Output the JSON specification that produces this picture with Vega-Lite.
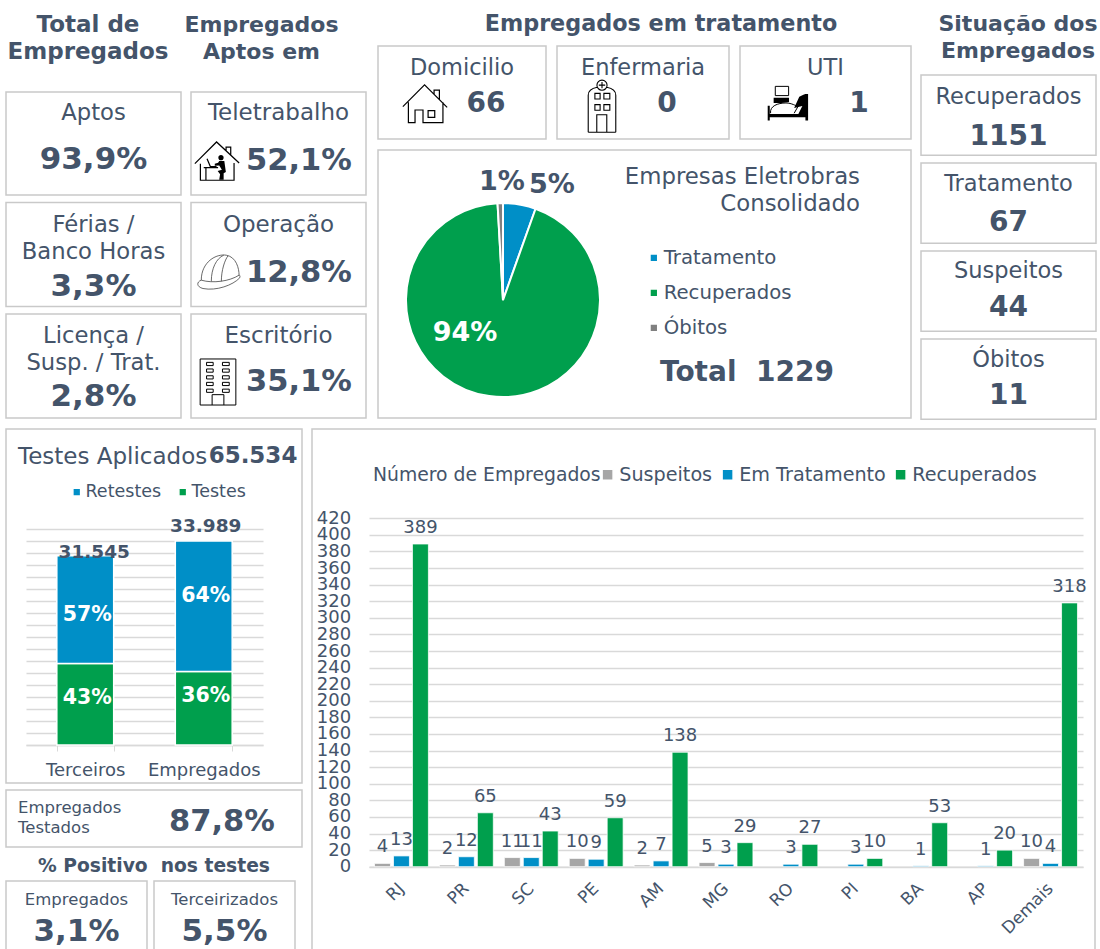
{"$schema":"https://vega.github.io/schema/vega-lite/v6.json","background":"white","padding":{"left":5,"top":0,"right":3,"bottom":0},"config":{"font":"DejaVu Sans","view":{"stroke":"#c9c9c9","strokeWidth":1.5},"text":{"color":"#44546A"},"axis":{"labelColor":"#44546A"},"legend":{"labelColor":"#44546A","titleColor":"#44546A"}},"spacing":8,"resolve":{"scale":{"color":"independent"},"legend":{"color":"independent"}},"vconcat":[
{"spacing":8,"resolve":{"scale":{"color":"independent"},"legend":{"color":"independent"}},"hconcat":[
 {"spacing":10,"resolve":{"scale":{"color":"independent"},"legend":{"color":"independent"}},"hconcat":[
  {"spacing":16,"vconcat":[
   {"width":360,"height":75,"view":{"stroke":null},"layer":[
    {"data":{"values":[{"texto":"Total de\nEmpregados"}]},"mark":{"type":"text","lineBreak":"\n","lineHeight":27,"fontSize":23,"fontWeight":"bold","dx":-98,"dy":-13},"encoding":{"text":{"field":"texto"}}},
    {"data":{"values":[{"texto":"Empregados\nAptos em"}]},"mark":{"type":"text","lineBreak":"\n","lineHeight":27,"fontSize":22,"fontWeight":"bold","dx":75.5,"dy":-13},"encoding":{"text":{"field":"texto"}}}
   ]},
   {"spacing":8,"hconcat":[
    {"bounds":"flush","spacing":7.5,"vconcat":[
     {"width":175,"height":103,"data":{"values":[{"linha":"topo","texto":"Aptos"},{"linha":"base","texto":"93,9%"}]},"encoding":{"text":{"field":"texto"},"y":{"field":"linha","type":"nominal","axis":null,"scale":{"domain":["topo","base"],"range":[21,68],"padding":0}}},"layer":[{"transform":[{"filter":"datum.linha=='topo'"}],"mark":{"type":"text","fontSize":22.7}},{"transform":[{"filter":"datum.linha=='base'"}],"mark":{"type":"text","fontSize":31,"fontWeight":"bold"}}]},
     {"width":175,"height":104,"data":{"values":[{"linha":"topo","texto":"Férias /\nBanco Horas"},{"linha":"base","texto":"3,3%"}]},"encoding":{"text":{"field":"texto"},"y":{"field":"linha","type":"nominal","axis":null,"scale":{"domain":["topo","base"],"range":[22,84],"padding":0}}},"layer":[{"transform":[{"filter":"datum.linha=='topo'"}],"mark":{"type":"text","fontSize":22.7,"lineBreak":"\n","lineHeight":27}},{"transform":[{"filter":"datum.linha=='base'"}],"mark":{"type":"text","fontSize":31,"fontWeight":"bold"}}]},
     {"width":175,"height":104,"data":{"values":[{"linha":"topo","texto":"Licença /\nSusp. / Trat."},{"linha":"base","texto":"2,8%"}]},"encoding":{"text":{"field":"texto"},"y":{"field":"linha","type":"nominal","axis":null,"scale":{"domain":["topo","base"],"range":[22,83],"padding":0}}},"layer":[{"transform":[{"filter":"datum.linha=='topo'"}],"mark":{"type":"text","fontSize":22.7,"lineBreak":"\n","lineHeight":27}},{"transform":[{"filter":"datum.linha=='base'"}],"mark":{"type":"text","fontSize":31,"fontWeight":"bold"}}]}
    ]},
    {"bounds":"flush","spacing":7.5,"vconcat":[
     {"width":175,"height":103,"data":{"values":[{"linha":"topo","papel":"rotulo","texto":"Teletrabalho"},{"linha":"base","papel":"valor","texto":"52,1%"},{"linha":"base","papel":"icone"}]},"encoding":{"y":{"field":"linha","type":"nominal","axis":null,"scale":{"domain":["topo","base"],"range":[21,69],"padding":0}}},"layer":[
      {"transform":[{"filter":"datum.papel=='rotulo'"}],"mark":{"type":"text","fontSize":23},"encoding":{"text":{"field":"texto"}}},
      {"transform":[{"filter":"datum.papel=='valor'"}],"mark":{"type":"text","fontSize":30.5,"fontWeight":"bold"},"encoding":{"text":{"field":"texto"},"x":{"field":"papel","type":"nominal","axis":null,"scale":{"domain":["icone","valor"],"range":[26,108],"padding":0}}}},
      {"transform":[{"filter":"datum.papel=='icone'"}],"mark":{"type":"point","opacity":1,"filled":false,"stroke":"#000","strokeWidth":1.2,"size":1962,"shape":"M-1 0.12L-0.02 -0.86L1 0.09M0.41 -0.45V-0.63H0.62V-0.26M-0.75 0.12V0.87H0.77V0.09M-0.6 0.3H0.05M-0.5 0.3V0.87M-0.45 -0.1L-0.3 0.25H-0.02"},"encoding":{"x":{"field":"papel","type":"nominal"}}},
      {"transform":[{"filter":"datum.papel=='icone'"}],"mark":{"type":"point","opacity":1,"filled":true,"color":"#000","size":1962,"shape":"M0.06 -0.15A0.12 0.12 0 1 1 0.3 -0.15A0.12 0.12 0 1 1 0.06 -0.15ZM0.1 0L0.33 0L0.4 0.5L0.3 0.55L0.3 0.85L0.1 0.85L0.14 0.6L0.03 0.45L0.22 0.4L0.1 0.2L-0.1 0.22L-0.1 0.12L0.05 0.08Z"},"encoding":{"x":{"field":"papel","type":"nominal"}}}
     ]},
     {"width":175,"height":104,"data":{"values":[{"linha":"topo","papel":"rotulo","texto":"Operação"},{"linha":"base","papel":"valor","texto":"12,8%"},{"linha":"base","papel":"icone"}]},"encoding":{"y":{"field":"linha","type":"nominal","axis":null,"scale":{"domain":["topo","base"],"range":[22,70],"padding":0}}},"layer":[
      {"transform":[{"filter":"datum.papel=='rotulo'"}],"mark":{"type":"text","fontSize":23},"encoding":{"text":{"field":"texto"}}},
      {"transform":[{"filter":"datum.papel=='valor'"}],"mark":{"type":"text","fontSize":30.5,"fontWeight":"bold"},"encoding":{"text":{"field":"texto"},"x":{"field":"papel","type":"nominal","axis":null,"scale":{"domain":["icone","valor"],"range":[28,108],"padding":0}}}},
      {"transform":[{"filter":"datum.papel=='icone'"}],"mark":{"type":"point","opacity":1,"filled":false,"stroke":"#444","strokeWidth":0.8,"size":1824,"shape":"M-0.83 0.36C-0.83 -0.5 -0.125 -0.89 0.34 -0.81C0.81 -0.73 0.94 -0.19 0.94 0.125M-0.83 0.36C-1.06 0.44 -1.06 0.67 -0.75 0.75C-0.125 0.875 0.66 0.59 0.97 0.25C1 0.16 0.97 0.125 0.94 0.125C0.5 0.41 -0.28 0.52 -0.83 0.36M-0.36 0.41C-0.36 -0.19 -0.125 -0.66 0.22 -0.81M0.11 0.41C0.11 -0.11 0.27 -0.58 0.42 -0.78"},"encoding":{"x":{"field":"papel","type":"nominal"}}}
     ]},
     {"width":175,"height":104,"data":{"values":[{"linha":"topo","papel":"rotulo","texto":"Escritório"},{"linha":"base","papel":"valor","texto":"35,1%"},{"linha":"base","papel":"icone"}]},"encoding":{"y":{"field":"linha","type":"nominal","axis":null,"scale":{"domain":["topo","base"],"range":[22,68],"padding":0}}},"layer":[
      {"transform":[{"filter":"datum.papel=='rotulo'"}],"mark":{"type":"text","fontSize":23},"encoding":{"text":{"field":"texto"}}},
      {"transform":[{"filter":"datum.papel=='valor'"}],"mark":{"type":"text","fontSize":30.5,"fontWeight":"bold"},"encoding":{"text":{"field":"texto"},"x":{"field":"papel","type":"nominal","axis":null,"scale":{"domain":["icone","valor"],"range":[27,108],"padding":0}}}},
      {"transform":[{"filter":"datum.papel=='icone'"}],"mark":{"type":"point","opacity":1,"filled":false,"stroke":"#000","strokeWidth":1,"size":1274,"shape":"M-1 -1.29H1V1.29H-1ZM-0.33 1.29V0.71H0.33V1.29M-0.64 -1.1H-0.27V-0.92H-0.64ZM0.25 -1.1H0.63V-0.92H0.25ZM-0.64 -0.73H-0.27V-0.55H-0.64ZM0.25 -0.73H0.63V-0.55H0.25ZM-0.64 -0.35H-0.27V-0.17H-0.64ZM0.25 -0.35H0.63V-0.17H0.25ZM-0.64 0.02H-0.27V0.2H-0.64ZM0.25 0.02H0.63V0.2H0.25ZM-0.64 0.4H-0.27V0.58H-0.64ZM0.25 0.4H0.63V0.58H0.25Z"},"encoding":{"x":{"field":"papel","type":"nominal"}}}
     ]}
    ]}
   ]}
  ]},
  {"spacing":0,"resolve":{"scale":{"color":"independent"},"legend":{"color":"independent"}},"vconcat":[
   {"width":533,"height":45,"view":{"stroke":null},"data":{"values":[{"texto":"Empregados em tratamento"}]},"mark":{"type":"text","fontSize":22.3,"fontWeight":"bold","dx":16.5,"dy":1.5},"encoding":{"text":{"field":"texto"}}},
   {"spacing":9,"resolve":{"scale":{"color":"independent"},"legend":{"color":"independent"}},"vconcat":[
    {"bounds":"flush","spacing":11,"hconcat":[
     {"width":168,"height":93,"data":{"values":[{"linha":"topo","papel":"rotulo","texto":"Domicilio"},{"linha":"base","papel":"valor","texto":"66"},{"linha":"base","papel":"icone"}]},"encoding":{"y":{"field":"linha","type":"nominal","axis":null,"scale":{"domain":["topo","base"],"range":[22,58],"padding":0}}},"layer":[
      {"transform":[{"filter":"datum.papel=='rotulo'"}],"mark":{"type":"text","fontSize":22.5},"encoding":{"text":{"field":"texto"}}},
      {"transform":[{"filter":"datum.papel=='valor'"}],"mark":{"type":"text","fontSize":28,"fontWeight":"bold"},"encoding":{"text":{"field":"texto"},"x":{"field":"papel","type":"nominal","axis":null,"scale":{"domain":["icone","valor"],"range":[47,108],"padding":0}}}},
      {"transform":[{"filter":"datum.papel=='icone'"}],"mark":{"type":"point","opacity":1,"filled":false,"stroke":"#000","strokeWidth":1.2,"size":1962,"shape":"M-1 0.12L-0.02 -0.87L1 0.15M0.41 -0.45V-0.63H0.65V-0.2M-0.75 -0.08V0.84H-0.45V0.27H-0.09V0.84H0.81V-0.08M0.14 0.3H0.44V0.6H0.14Z"},"encoding":{"x":{"field":"papel","type":"nominal"}}}
     ]},
     {"width":172,"height":93,"data":{"values":[{"linha":"topo","papel":"rotulo","texto":"Enfermaria"},{"linha":"base","papel":"valor","texto":"0"},{"linha":"base","papel":"icone"}]},"encoding":{"y":{"field":"linha","type":"nominal","axis":null,"scale":{"domain":["topo","base"],"range":[22,58],"padding":0}}},"layer":[
      {"transform":[{"filter":"datum.papel=='rotulo'"}],"mark":{"type":"text","fontSize":22.5},"encoding":{"text":{"field":"texto"}}},
      {"transform":[{"filter":"datum.papel=='valor'"}],"mark":{"type":"text","fontSize":28,"fontWeight":"bold"},"encoding":{"text":{"field":"texto"},"x":{"field":"papel","type":"nominal","axis":null,"scale":{"domain":["icone","valor"],"range":[45,110],"padding":0}}}},
      {"transform":[{"filter":"datum.papel=='icone'"}],"mark":{"type":"point","opacity":1,"filled":false,"stroke":"#000","strokeWidth":1.1,"size":841,"shape":"M-0.95 1.95V-0.6C-0.95 -0.95 -0.6 -1.1 -0.33 -1.15M0.95 1.95V-0.6C0.95 -0.95 0.6 -1.1 0.33 -1.15M-0.95 1.95H0.95M-0.35 -1.3A0.35 0.35 0 1 1 0.35 -1.3A0.35 0.35 0 1 1 -0.35 -1.3ZM0 -1.52V-1.08M-0.22 -1.3H0.22M-0.49 -0.73H-0.13V-0.34H-0.49ZM0.13 -0.73H0.54V-0.34H0.13ZM-0.49 0.04H-0.13V0.43H-0.49ZM0.13 0.04H0.54V0.43H0.13ZM-0.36 1.95V0.74H0.33V1.95"},"encoding":{"x":{"field":"papel","type":"nominal"}}}
     ]},
     {"width":171,"height":93,"data":{"values":[{"linha":"topo","papel":"rotulo","texto":"UTI"},{"linha":"base","papel":"valor","texto":"1"},{"linha":"base","papel":"icone"}]},"encoding":{"y":{"field":"linha","type":"nominal","axis":null,"scale":{"domain":["topo","base"],"range":[22,58],"padding":0}}},"layer":[
      {"transform":[{"filter":"datum.papel=='rotulo'"}],"mark":{"type":"text","fontSize":22.5},"encoding":{"text":{"field":"texto"}}},
      {"transform":[{"filter":"datum.papel=='valor'"}],"mark":{"type":"text","fontSize":28,"fontWeight":"bold"},"encoding":{"text":{"field":"texto"},"x":{"field":"papel","type":"nominal","axis":null,"scale":{"domain":["icone","valor"],"range":[48,119],"padding":0}}}},
      {"transform":[{"filter":"datum.papel=='icone'"}],"mark":{"type":"point","opacity":1,"filled":false,"stroke":"#000","strokeWidth":1,"size":1681,"shape":"M-0.62 -0.86H0.03V-0.41H-0.62ZM-0.85 0.45C-0.9 0.1 -0.5 -0.05 -0.1 -0.05C0.2 -0.05 0.35 0.1 0.5 0.1L0.3 0.45"},"encoding":{"x":{"field":"papel","type":"nominal"}}},
      {"transform":[{"filter":"datum.papel=='icone'"}],"mark":{"type":"point","opacity":1,"filled":true,"color":"#000","size":1681,"shape":"M-0.99 0.08H-0.89V0.49H0.85V-0.49H0.98V0.81H0.85V0.65H-0.89V0.81H-0.99ZM0.3 0.2L0.55 -0.35L0.75 -0.45L0.85 -0.49V0.5H0.5L0.7 0.1ZM-0.7 -0.3H0.05V-0.1L-0.3 -0.05H-0.7Z"},"encoding":{"x":{"field":"papel","type":"nominal"}}}
     ]}
    ]},
    {"width":533,"height":268,"layer":[
     {"data":{"values":[{"categoria":"Tratamento","valor":67,"ordem":1},{"categoria":"Recuperados","valor":1151,"ordem":2},{"categoria":"Óbitos","valor":11,"ordem":3}]},"mark":{"type":"arc","outerRadius":97,"stroke":"white","strokeWidth":2},"encoding":{"theta":{"field":"valor","type":"quantitative"},"order":{"field":"ordem","type":"quantitative"},"x":{"datum":0.2345,"type":"quantitative","axis":null,"scale":{"domain":[0,1],"range":[0,533]}},"y":{"datum":0.56,"type":"quantitative","axis":null,"scale":{"domain":[0,1],"range":[0,268]}},"color":{"field":"categoria","type":"nominal","scale":{"domain":["Tratamento","Recuperados","Óbitos"],"range":["#008FC7","#009F4D","#808080"]},"legend":{"orient":"none","legendX":266,"legendY":98,"title":null,"symbolType":"square","symbolSize":60,"labelFontSize":19.7,"rowPadding":14,"labelOffset":0}}}},
     {"data":{"values":[{"texto":"1%"}]},"mark":{"type":"text","fontSize":27,"fontWeight":"bold","dx":-142.5,"dy":-102},"encoding":{"text":{"field":"texto"}}},
     {"data":{"values":[{"texto":"5%"}]},"mark":{"type":"text","fontSize":27,"fontWeight":"bold","dx":-92.5,"dy":-99},"encoding":{"text":{"field":"texto"}}},
     {"data":{"values":[{"texto":"94%"}]},"mark":{"type":"text","fontSize":27,"fontWeight":"bold","color":"white","dx":-179.5,"dy":49},"encoding":{"text":{"field":"texto"}}},
     {"data":{"values":[{"texto":"Empresas Eletrobras\nConsolidado"}]},"mark":{"type":"text","fontSize":22.8,"align":"right","lineBreak":"\n","lineHeight":27,"dx":215.5,"dy":-107},"encoding":{"text":{"field":"texto"}}},
     {"data":{"values":[{"texto":"Total\u00a0\u00a01229"}]},"mark":{"type":"text","fontSize":28,"fontWeight":"bold","align":"left","dx":15.5,"dy":89},"encoding":{"text":{"field":"texto"}}}
    ]}
   ]}
  ]}
 ]},
 {"spacing":0,"vconcat":[
  {"width":175,"height":74,"view":{"stroke":null},"data":{"values":[{"texto":"Situação dos\nEmpregados"}]},"mark":{"type":"text","lineBreak":"\n","lineHeight":27,"fontSize":22,"fontWeight":"bold","dx":9.5,"dy":-13},"encoding":{"text":{"field":"texto"}}},
  {"bounds":"flush","spacing":7,"vconcat":[
   {"width":175,"height":80.25,"data":{"values":[{"linha":"topo","texto":"Recuperados"},{"linha":"base","texto":"1151"}]},"encoding":{"text":{"field":"texto"},"y":{"field":"linha","type":"nominal","axis":null,"scale":{"domain":["topo","base"],"range":[22,62],"padding":0}}},"layer":[{"transform":[{"filter":"datum.linha=='topo'"}],"mark":{"type":"text","fontSize":22.5}},{"transform":[{"filter":"datum.linha=='base'"}],"mark":{"type":"text","fontSize":28,"fontWeight":"bold"}}]},
   {"width":175,"height":80.25,"data":{"values":[{"linha":"topo","texto":"Tratamento"},{"linha":"base","texto":"67"}]},"encoding":{"text":{"field":"texto"},"y":{"field":"linha","type":"nominal","axis":null,"scale":{"domain":["topo","base"],"range":[21,60],"padding":0}}},"layer":[{"transform":[{"filter":"datum.linha=='topo'"}],"mark":{"type":"text","fontSize":22.5}},{"transform":[{"filter":"datum.linha=='base'"}],"mark":{"type":"text","fontSize":28,"fontWeight":"bold"}}]},
   {"width":175,"height":80.25,"data":{"values":[{"linha":"topo","texto":"Suspeitos"},{"linha":"base","texto":"44"}]},"encoding":{"text":{"field":"texto"},"y":{"field":"linha","type":"nominal","axis":null,"scale":{"domain":["topo","base"],"range":[20,57],"padding":0}}},"layer":[{"transform":[{"filter":"datum.linha=='topo'"}],"mark":{"type":"text","fontSize":22.5}},{"transform":[{"filter":"datum.linha=='base'"}],"mark":{"type":"text","fontSize":28,"fontWeight":"bold"}}]},
   {"width":175,"height":80.25,"data":{"values":[{"linha":"topo","texto":"Óbitos"},{"linha":"base","texto":"11"}]},"encoding":{"text":{"field":"texto"},"y":{"field":"linha","type":"nominal","axis":null,"scale":{"domain":["topo","base"],"range":[21,57],"padding":0}}},"layer":[{"transform":[{"filter":"datum.linha=='topo'"}],"mark":{"type":"text","fontSize":22.5}},{"transform":[{"filter":"datum.linha=='base'"}],"mark":{"type":"text","fontSize":28,"fontWeight":"bold"}}]}
  ]}
 ]}
]},
{"spacing":8,"resolve":{"scale":{"color":"independent"},"legend":{"color":"independent"}},"hconcat":[
 {"spacing":5,"resolve":{"scale":{"color":"independent"},"legend":{"color":"independent"}},"vconcat":[
  {"width":296,"height":354,"layer":[
   {"data":{"values":[{"grupo":"Terceiros","serie":"Testes","testes":13564,"ordem":1},{"grupo":"Terceiros","serie":"Retestes","testes":17981,"ordem":2},{"grupo":"Empregados","serie":"Testes","testes":12236,"ordem":1},{"grupo":"Empregados","serie":"Retestes","testes":21753,"ordem":2}]},"mark":{"type":"bar","stroke":"white","strokeWidth":1.5},"encoding":{"x":{"field":"grupo","type":"nominal","title":null,"sort":["Terceiros","Empregados"],"scale":{"domain":["Terceiros","Empregados"],"range":[20,257],"paddingInner":0.52,"paddingOuter":0.26},"axis":{"offset":-38,"labelAngle":0,"labelFontSize":18,"labelPadding":10,"tickBand":"extent","tickColor":"#d9d9d9","tickSize":6,"domainColor":"#d9d9d9","domainWidth":1.5}},"y":{"field":"testes","type":"quantitative","title":null,"scale":{"domain":[0,36000],"range":[316,100],"nice":false},"axis":{"values":[0,2000,4000,6000,8000,10000,12000,14000,16000,18000,20000,22000,24000,26000,28000,30000,32000,34000,36000],"labels":false,"ticks":false,"domain":false,"gridColor":"#d9d9d9","gridWidth":1.5}},"order":{"field":"ordem","type":"quantitative"},"color":{"field":"serie","type":"nominal","scale":{"domain":["Retestes","Testes"],"range":["#008FC7","#009F4D"]},"legend":{"orient":"none","legendX":62,"legendY":54,"direction":"horizontal","title":null,"symbolType":"square","symbolSize":60,"labelFontSize":17.5,"labelOffset":0,"columnPadding":12}}}},
   {"data":{"values":[{"grupo":"Terceiros","rotulo":"43%","altura":7778},{"grupo":"Terceiros","rotulo":"57%","altura":21667},{"grupo":"Empregados","rotulo":"36%","altura":8222},{"grupo":"Empregados","rotulo":"64%","altura":24778}]},"mark":{"type":"text","fontSize":20.5,"fontWeight":"bold","color":"white","dx":2},"encoding":{"x":{"field":"grupo","type":"nominal","title":null,"sort":["Terceiros","Empregados"],"axis":{"offset":-38,"labelAngle":0,"labelFontSize":18,"labelPadding":10,"tickBand":"extent","tickColor":"#d9d9d9","tickSize":6,"domainColor":"#d9d9d9","domainWidth":1.5}},"y":{"field":"altura","type":"quantitative","title":null,"axis":{"values":[0,2000,4000,6000,8000,10000,12000,14000,16000,18000,20000,22000,24000,26000,28000,30000,32000,34000,36000],"labels":false,"ticks":false,"domain":false,"gridColor":"#d9d9d9","gridWidth":1.5}},"text":{"field":"rotulo"}}},
   {"data":{"values":[{"grupo":"Terceiros","rotulo":"31.545","altura":32167}]},"mark":{"type":"text","fontSize":18.5,"fontWeight":"bold","dx":9},"encoding":{"x":{"field":"grupo","type":"nominal","title":null,"sort":["Terceiros","Empregados"],"axis":{"offset":-38,"labelAngle":0,"labelFontSize":18,"labelPadding":10,"tickBand":"extent","tickColor":"#d9d9d9","tickSize":6,"domainColor":"#d9d9d9","domainWidth":1.5}},"y":{"field":"altura","type":"quantitative","title":null,"axis":{"values":[0,2000,4000,6000,8000,10000,12000,14000,16000,18000,20000,22000,24000,26000,28000,30000,32000,34000,36000],"labels":false,"ticks":false,"domain":false,"gridColor":"#d9d9d9","gridWidth":1.5}},"text":{"field":"rotulo"}}},
   {"data":{"values":[{"grupo":"Empregados","rotulo":"33.989","altura":36500}]},"mark":{"type":"text","fontSize":18.5,"fontWeight":"bold","dx":2},"encoding":{"x":{"field":"grupo","type":"nominal","title":null,"sort":["Terceiros","Empregados"],"axis":{"offset":-38,"labelAngle":0,"labelFontSize":18,"labelPadding":10,"tickBand":"extent","tickColor":"#d9d9d9","tickSize":6,"domainColor":"#d9d9d9","domainWidth":1.5}},"y":{"field":"altura","type":"quantitative","title":null,"axis":{"values":[0,2000,4000,6000,8000,10000,12000,14000,16000,18000,20000,22000,24000,26000,28000,30000,32000,34000,36000],"labels":false,"ticks":false,"domain":false,"gridColor":"#d9d9d9","gridWidth":1.5}},"text":{"field":"rotulo"}}},
   {"data":{"values":[{"texto":"Testes Aplicados"}]},"mark":{"type":"text","fontSize":23,"align":"left","dx":-136,"dy":-149},"encoding":{"text":{"field":"texto"}}},
   {"data":{"values":[{"texto":"65.534"}]},"mark":{"type":"text","fontSize":23,"fontWeight":"bold","dx":99,"dy":-150},"encoding":{"text":{"field":"texto"}}}
  ]},
  {"spacing":0,"vconcat":[
   {"width":296,"height":57,"data":{"values":[{"linha":"rotulo","texto":"Empregados\nTestados"},{"linha":"valor","texto":"87,8%"}]},"encoding":{"text":{"field":"texto"},"y":{"field":"linha","type":"nominal","axis":null,"scale":{"domain":["rotulo","valor"],"range":[18,32],"padding":0}}},"layer":[
    {"transform":[{"filter":"datum.linha=='rotulo'"}],"mark":{"type":"text","fontSize":16.5,"align":"left","lineBreak":"\n","lineHeight":20,"dx":-136}},
    {"transform":[{"filter":"datum.linha=='valor'"}],"mark":{"type":"text","fontSize":30.5,"fontWeight":"bold","dx":68}}
   ]},
   {"width":296,"height":32,"view":{"stroke":null},"data":{"values":[{"texto":"% Positivo\u00a0\u00a0nos testes"}]},"mark":{"type":"text","fontSize":18.7,"fontWeight":"bold","dy":2},"encoding":{"text":{"field":"texto"}}},
   {"bounds":"flush","spacing":7,"hconcat":[
    {"width":141,"height":100,"data":{"values":[{"linha":"topo","texto":"Empregados"},{"linha":"base","texto":"3,1%"}]},"encoding":{"text":{"field":"texto"},"y":{"field":"linha","type":"nominal","axis":null,"scale":{"domain":["topo","base"],"range":[19,51],"padding":0}}},"layer":[{"transform":[{"filter":"datum.linha=='topo'"}],"mark":{"type":"text","fontSize":16.5}},{"transform":[{"filter":"datum.linha=='base'"}],"mark":{"type":"text","fontSize":31,"fontWeight":"bold"}}]},
    {"width":141,"height":100,"data":{"values":[{"linha":"topo","texto":"Terceirizados"},{"linha":"base","texto":"5,5%"}]},"encoding":{"text":{"field":"texto"},"y":{"field":"linha","type":"nominal","axis":null,"scale":{"domain":["topo","base"],"range":[19,51],"padding":0}}},"layer":[{"transform":[{"filter":"datum.linha=='topo'"}],"mark":{"type":"text","fontSize":16.5}},{"transform":[{"filter":"datum.linha=='base'"}],"mark":{"type":"text","fontSize":31,"fontWeight":"bold"}}]}
   ]}
  ]}
 ]},
 {"width":783,"height":553,"data":{"values":[
  {"uf":"RJ","serie":"Suspeitos","valor":4},{"uf":"RJ","serie":"Em Tratamento","valor":13},{"uf":"RJ","serie":"Recuperados","valor":389},
  {"uf":"PR","serie":"Suspeitos","valor":2},{"uf":"PR","serie":"Em Tratamento","valor":12},{"uf":"PR","serie":"Recuperados","valor":65},
  {"uf":"SC","serie":"Suspeitos","valor":11},{"uf":"SC","serie":"Em Tratamento","valor":11},{"uf":"SC","serie":"Recuperados","valor":43},
  {"uf":"PE","serie":"Suspeitos","valor":10},{"uf":"PE","serie":"Em Tratamento","valor":9},{"uf":"PE","serie":"Recuperados","valor":59},
  {"uf":"AM","serie":"Suspeitos","valor":2},{"uf":"AM","serie":"Em Tratamento","valor":7},{"uf":"AM","serie":"Recuperados","valor":138},
  {"uf":"MG","serie":"Suspeitos","valor":5},{"uf":"MG","serie":"Em Tratamento","valor":3},{"uf":"MG","serie":"Recuperados","valor":29},
  {"uf":"RO","serie":"Em Tratamento","valor":3},{"uf":"RO","serie":"Recuperados","valor":27},
  {"uf":"PI","serie":"Em Tratamento","valor":3},{"uf":"PI","serie":"Recuperados","valor":10},
  {"uf":"BA","serie":"Em Tratamento","valor":1},{"uf":"BA","serie":"Recuperados","valor":53},
  {"uf":"AP","serie":"Em Tratamento","valor":1},{"uf":"AP","serie":"Recuperados","valor":20},
  {"uf":"Demais","serie":"Suspeitos","valor":10},{"uf":"Demais","serie":"Em Tratamento","valor":4},{"uf":"Demais","serie":"Recuperados","valor":318}
 ]},"encoding":{"x":{"field":"uf","type":"nominal","title":null,"sort":null,"scale":{"domain":["RJ","PR","SC","PE","AM","MG","RO","PI","BA","AP","Demais"],"range":[57,771],"paddingInner":0.17,"paddingOuter":0.085},"axis":{"offset":-115.3,"labelAngle":-45,"labelFontSize":17,"labelAlign":"right","labelBaseline":"middle","labelPadding":19,"ticks":false,"domainColor":"#d9d9d9","domainWidth":1.5}},"xOffset":{"field":"serie","type":"nominal","scale":{"domain":["Suspeitos","Em Tratamento","Recuperados"],"paddingInner":0.16}},"y":{"field":"valor","type":"quantitative","title":null,"scale":{"domain":[0,420],"range":[437.7,89.3],"nice":false},"axis":{"offset":-40.7,"values":[0,20,40,60,80,100,120,140,160,180,200,220,240,260,280,300,320,340,360,380,400,420],"labelFontSize":18,"labelPadding":2,"labelOverlap":false,"labelFlush":false,"ticks":false,"domain":false,"gridColor":"#d9d9d9","gridWidth":1.5}}},"layer":[
  {"mark":{"type":"bar","stroke":"white","strokeWidth":0.75},"encoding":{"color":{"field":"serie","type":"nominal","scale":{"domain":["Suspeitos","Em Tratamento","Recuperados"],"range":["#A6A6A6","#008FC7","#009F4D"]},"legend":{"orient":"none","legendX":61,"legendY":36,"direction":"horizontal","title":"Número de Empregados","titleOrient":"left","titleFontSize":18.8,"titleFontWeight":"normal","titlePadding":-3,"titleLimit":400,"labelLimit":300,"labelFontSize":19.2,"symbolType":"square","symbolSize":121,"labelOffset":2,"columnPadding":5}}}},
  {"mark":{"type":"text","fontSize":18,"dy":-16},"encoding":{"text":{"field":"valor","type":"quantitative"}}}
 ]}
]}
]}
